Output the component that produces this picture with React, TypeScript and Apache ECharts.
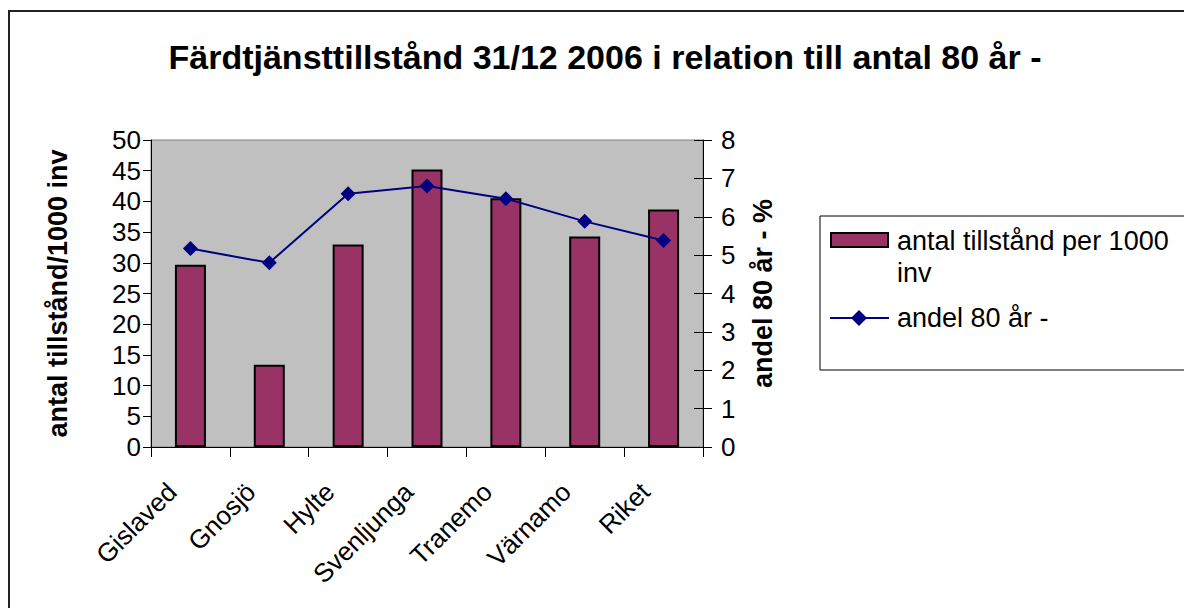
import React, { useEffect, useRef } from "react";
import * as echarts from "echarts";

const titleText = "Färdtjänsttillstånd 31/12 2006 i relation till antal 80 år -";
const categories = ["Gislaved", "Gnosjö", "Hylte", "Svenljunga", "Tranemo", "Värnamo", "Riket"];
const permitsPer1000 = [29.7, 13.4, 33.0, 45.2, 40.5, 34.3, 38.7];
const share80 = [5.17, 4.8, 6.6, 6.8, 6.47, 5.88, 5.38];
const barName = "antal tillstånd per 1000 inv";
const lineName = "andel 80 år -";
const leftAxisName = "antal tillstånd/1000 inv";
const rightAxisName = "andel 80 år - %";

const FONT = "Liberation Sans, Arial, sans-serif";
const BAR_COLOR = "#993366";
const LINE_COLOR = "#000080";

export default function App() {
  const ref = useRef<HTMLDivElement>(null);
  useEffect(() => {
    if (!ref.current) return;
    const chart = echarts.init(ref.current, undefined, { renderer: "svg" });
    chart.setOption({
      animation: false,
      backgroundColor: "#ffffff",
      textStyle: { fontFamily: FONT },
      grid: {
        left: 151,
        top: 140,
        width: 552,
        height: 307,
        show: true,
        backgroundColor: "#c0c0c0",
        borderColor: "#808080",
        borderWidth: 1,
      },
      xAxis: {
        type: "category",
        data: categories,
        boundaryGap: true,
        axisLine: { lineStyle: { color: "#000", width: 1 } },
        axisTick: { show: true, interval: 0, length: 10, lineStyle: { color: "#000" } },
        axisLabel: {
          interval: 0,
          rotate: 45,
          margin: 22,
          padding: [0, 26, 0, 0],
          fontSize: 26,
          color: "#000",
          fontFamily: FONT,
        },
        splitLine: { show: false },
      },
      yAxis: [
        {
          type: "value",
          min: 0,
          max: 50,
          interval: 5,
          position: "left",
          name: leftAxisName,
          nameLocation: "middle",
          nameGap: 80,
          nameTextStyle: { fontSize: 27, fontWeight: "bold", color: "#000", fontFamily: FONT },
          axisLine: { show: true, lineStyle: { color: "#000" } },
          axisTick: { show: true, length: 8, lineStyle: { color: "#000" } },
          axisLabel: { fontSize: 26, color: "#000", margin: 10, fontFamily: FONT },
          splitLine: { show: false },
        },
        {
          type: "value",
          min: 0,
          max: 8,
          interval: 1,
          position: "right",
          name: rightAxisName,
          nameLocation: "middle",
          nameGap: 46,
          nameTextStyle: { fontSize: 27, fontWeight: "bold", color: "#000", fontFamily: FONT },
          axisLine: { show: true, lineStyle: { color: "#000" } },
          axisTick: { show: true, length: 9, lineStyle: { color: "#000" } },
          axisLabel: { fontSize: 26, color: "#000", margin: 18, fontFamily: FONT },
          splitLine: { show: false },
        },
        {
          type: "value",
          min: 0,
          max: 8,
          interval: 1,
          position: "right",
          axisLine: { show: false },
          axisTick: { show: true, inside: true, length: 9, lineStyle: { color: "#000" } },
          axisLabel: { show: false },
          splitLine: { show: false },
        },
      ],
      series: [
        {
          name: barName,
          type: "bar",
          yAxisIndex: 0,
          data: permitsPer1000,
          barWidth: 31,
          itemStyle: { color: BAR_COLOR, borderColor: "#000", borderWidth: 2 },
        },
        {
          name: lineName,
          type: "line",
          yAxisIndex: 1,
          data: share80,
          symbol: "diamond",
          symbolSize: 15,
          lineStyle: { color: LINE_COLOR, width: 2 },
          itemStyle: { color: LINE_COLOR },
        },
      ],
      graphic: [
        {
          type: "rect",
          shape: { x: 9, y: 11, width: 1200, height: 620 },
          style: { fill: "none", stroke: "#222", lineWidth: 2 },
          silent: true,
        },
        {
          type: "text",
          x: 605,
          y: 57,
          style: {
            text: titleText,
            fontSize: 34,
            fontWeight: "bold",
            fontFamily: FONT,
            fill: "#000",
            align: "center",
            verticalAlign: "middle",
          },
        },
        {
          type: "rect",
          shape: { x: 820, y: 216, width: 400, height: 154 },
          style: { fill: "#fff", stroke: "#000", lineWidth: 1 },
        },
        {
          type: "rect",
          shape: { x: 831, y: 233, width: 57, height: 14 },
          style: { fill: BAR_COLOR, stroke: "#000", lineWidth: 2 },
        },
        {
          type: "text",
          x: 897,
          y: 241,
          style: {
            text: "antal tillstånd per 1000",
            fontSize: 27,
            fontFamily: FONT,
            fill: "#000",
            align: "left",
            verticalAlign: "middle",
          },
        },
        {
          type: "text",
          x: 897,
          y: 273,
          style: {
            text: "inv",
            fontSize: 27,
            fontFamily: FONT,
            fill: "#000",
            align: "left",
            verticalAlign: "middle",
          },
        },
        {
          type: "line",
          shape: { x1: 830, y1: 318, x2: 889, y2: 318 },
          style: { stroke: LINE_COLOR, lineWidth: 2 },
        },
        {
          type: "polygon",
          shape: { points: [[859, 310], [867, 318], [859, 326], [851, 318]] },
          style: { fill: LINE_COLOR },
        },
        {
          type: "text",
          x: 897,
          y: 318,
          style: {
            text: lineName,
            fontSize: 27,
            fontFamily: FONT,
            fill: "#000",
            align: "left",
            verticalAlign: "middle",
          },
        },
      ],
    });
    return () => chart.dispose();
  }, []);
  return (
    <div
      ref={ref}
      style={{ position: "fixed", left: 0, top: 0, width: 1184, height: 608 }}
    />
  );
}
